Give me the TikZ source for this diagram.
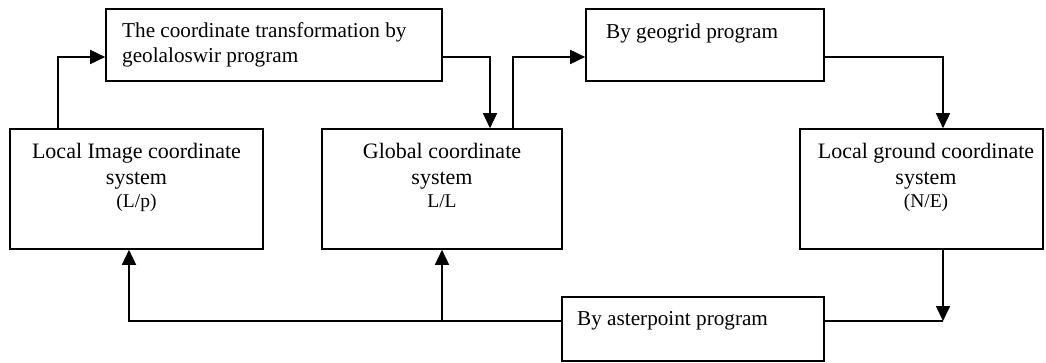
\documentclass[tikz,border=0pt]{standalone}
\usepackage{fontspec}
\setmainfont{Liberation Serif}
\usetikzlibrary{arrows.meta}
\begin{document}
\begin{tikzpicture}[x=1pt,y=-1pt,
  box/.style={draw, line width=1.6pt, inner sep=0pt},
  ln/.style={line width=1.6pt},
  conn/.style={line width=1.6pt, -{Triangle[length=15pt,width=14pt]}},
  big/.style={font=\fontsize{22}{26}\selectfont, inner sep=0pt},
  prog/.style={font=\fontsize{21.2}{25.5}\selectfont, inner sep=0pt},
  small/.style={font=\fontsize{19.5}{23}\selectfont}]
\useasboundingbox (0,0) rectangle (1046,363);
% boxes
\node[box, minimum width=336pt, minimum height=72pt] (trans) at (274,45) {};
\node[box, minimum width=238pt, minimum height=72pt] (geo) at (705,45) {};
\node[box, minimum width=253pt, minimum height=120pt] (img) at (136.5,189) {};
\node[box, minimum width=240pt, minimum height=120pt] (glob) at (442,189) {};
\node[box, minimum width=243pt, minimum height=120pt] (ground) at (921.5,189) {};
\node[box, minimum width=262pt, minimum height=64pt] (ast) at (693,329) {};
% texts
\node[prog, anchor=north west, align=left] (transtxt) at (122,22) {The coordinate transformation by\\geolaloswir program};
\node[prog, anchor=base west] (geotxt) at (606,39) {By geogrid program};
\node[prog, anchor=base west] (asttxt) at (577,325) {By asterpoint program};
\node[big, anchor=north, align=center] (imgtxt) at (136.5,143) {Local Image coordinate\\system\\[-3pt]{\small\fontsize{19.5}{23}\selectfont (L/p)}};
\node[big, anchor=north, align=center] (globtxt) at (442,143) {Global coordinate\\system\\[-3pt]{\fontsize{19.5}{23}\selectfont L/L}};
\node[big, anchor=north, align=center] (groundtxt) at (926,143) {Local ground coordinate\\system\\[-3pt]{\fontsize{19.5}{23}\selectfont (N/E)}};
% connectors
\coordinate (j1) at (943,321);
\draw[conn] ([xshift=-78.5pt]img.north) |- ([yshift=-12pt]trans.west);
\draw[conn] ([yshift=-12pt]trans.east) -| ([xshift=48pt]glob.north);
\draw[conn] ([xshift=71pt]glob.north) |- ([yshift=-12pt]geo.west);
\draw[conn] ([yshift=-12pt]geo.east) -| ([xshift=21.5pt]ground.north);
\draw[conn] ([xshift=21.5pt]ground.south) -- (j1);
\draw[ln] (j1) -- (ast.east |- j1);
\draw[conn] (ast.west |- j1) -| ([xshift=-7.5pt]img.south);
\draw[conn] (glob.south |- j1) -- (glob.south);
\end{tikzpicture}
\end{document}
